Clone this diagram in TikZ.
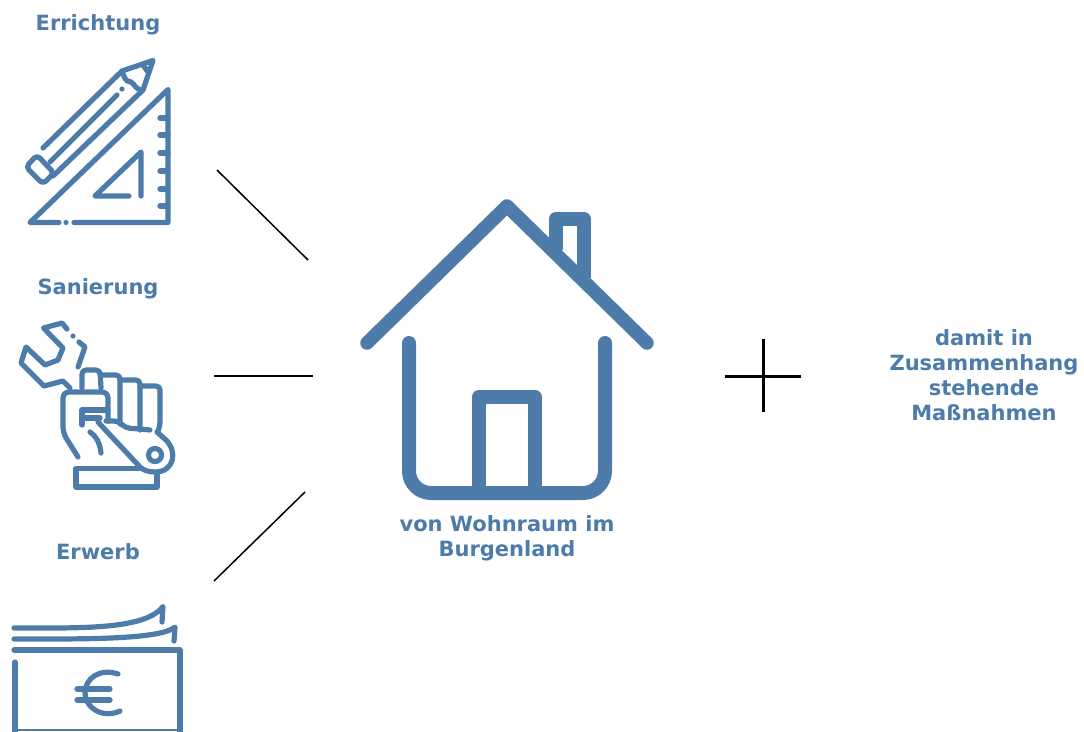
\documentclass[tikz,border=0pt]{standalone}
\usepackage{fontspec}
\setmainfont{DejaVu Sans}
\definecolor{hb}{HTML}{4D7CAB}
\tikzset{
  lab/.style={text=hb,font=\bfseries\fontsize{21}{25}\selectfont,align=center,inner sep=0pt},
  ict/.style={draw=hb,line width=5.2pt,line cap=round,line join=round},
  hs/.style={draw=hb,line width=14pt,line cap=round,line join=round},
  conn/.style={draw=black,line width=1.5pt},
}
\begin{document}
\begin{tikzpicture}[x=1pt,y=-1pt]
\useasboundingbox (0,0) rectangle (1084,731);
% labels
\node[lab] (l1) at (98,25) {Errichtung};
\node[lab] (l2) at (98,289) {Sanierung};
\node[lab] (l3) at (98,552) {Erwerb};
\node[lab] (l4) at (507,538) {von Wohnraum im\\Burgenland};
\node[lab] (l5) at (984,375) {damit in\\Zusammenhang\\stehende\\Maßnahmen};
% connectors
\coordinate (a1) at (217,170); \coordinate (b1) at (308,260);
\coordinate (a2) at (214,376); \coordinate (b2) at (313,376);
\coordinate (a3) at (214,581); \coordinate (b3) at (305,492);
\draw[conn] (a1) -- (b1);
\draw[conn] (a2) -- (b2);
\draw[conn] (a3) -- (b3);
% plus
\coordinate (p1) at (725,376); \coordinate (p2) at (801,376);
\coordinate (p3) at (763,339); \coordinate (p4) at (763,412);
\draw[black,line width=3pt] (p1) -- (p2);
\draw[black,line width=3pt] (p3) -- (p4);
% house
\draw[hs,line width=13.5pt] (367,343) -- (507,206) -- (647,343);
\draw[hs,line cap=butt] (556,250) -- (556,219) -- (584,219) -- (584,278);
\draw[hs,rounded corners=22pt] (409,343) -- (409,493) -- (605,493) -- (605,343);
\draw[hs,line cap=butt] (479,493) -- (479,397) -- (535,397) -- (535,493);
% triangle ruler
\draw[ict] (59,222.5) -- (30,222.5) -- (168,89.5) -- (168,222.5) -- (74,222.5);
\fill[hb] (66,222.5) circle (2.6pt);
\foreach \yy in {118,135,153,171,189,206} \draw[ict] (160,\yy) -- (168,\yy);
\draw[ict] (129,196) -- (95,196) -- (141,152) -- (141,196);
% pencil
\draw[ict] (43,148) -- (122,71) -- (153,60.5) -- (143,90) -- (53,176);
\draw[ict] (50,162) -- (117,95);
\fill[hb] (122,89) circle (2.6pt);
\draw[ict] (122,71) .. controls (124,76) and (125,82) .. (131,82) .. controls (135,84) and (135,90) .. (143,90);
\draw[ict] (143,65) -- (148,72);
\draw[ict,rounded corners=4pt] (37,155) -- (26,167) -- (43,184) -- (54,173) -- cycle;
% wrench
\draw[ict] (67,329) -- (62,323) -- (43.5,328) -- (63,348) -- (58,360) -- (45,365) -- (26,347) -- (21,363) -- (44,386) -- (63,381) -- (70,388);
\fill[hb] (73,336) circle (2.6pt);
\draw[ict] (79,342) -- (85,347) -- (78,367);
% fingers
\draw[ict,rounded corners=4pt] (82,388) -- (82,370) -- (100,370) -- (101,388);
\draw[ict,rounded corners=4pt] (100,375) -- (120,375) -- (120,424);
\draw[ict,rounded corners=4pt] (120,380) -- (140,380) -- (140,430);
\draw[ict,rounded corners=4pt] (140,386) -- (160,386) -- (160,426) -- (158,431);
\draw[ict,rounded corners=4pt] (106,421) -- (118,421) -- (126,428) -- (140,429) -- (150,430);
% palm
\draw[ict,rounded corners=6pt] (78,457) -- (63,433) -- (63,392) -- (108,392) -- (108,421);
\draw[ict] (108,410) -- (82,410) -- (82,425);
\draw[ict] (82,418) -- (100,418);
\draw[ict] (90,432) .. controls (96,436) and (100,443) .. (101,453);
% spanner handle
\draw[ict] (98,422) -- (140,467);
\draw[ict] (157,432) -- (166,440) .. controls (178,452) and (174,472) .. (155,472) .. controls (148,472) and (143,470) .. (140,467);
\draw[ict] (155,455) circle (6.5pt);
\draw[ict] (139,468.5) -- (76,468.5) -- (76,487) -- (157,487) -- (157,475);
% money
\draw[ict] (14,628) .. controls (80,628) and (145,630) .. (163,606.5) -- (162,622);
\draw[ict] (14,639) .. controls (80,639) and (160,640) .. (175,627) -- (174,641);
\draw[ict] (14,650) -- (180,650) -- (180,735);
\draw[ict] (15,662) -- (15,735);
\draw[hb,line width=2pt] (15,730) -- (180,730);
\draw[ict] (118,674) .. controls (100,668) and (85,678) .. (85,693) .. controls (85,708) and (103,719) .. (120,711);
\draw[ict] (77,689) -- (110,689);
\draw[ict] (77,700) -- (110,700);
\end{tikzpicture}
\end{document}
